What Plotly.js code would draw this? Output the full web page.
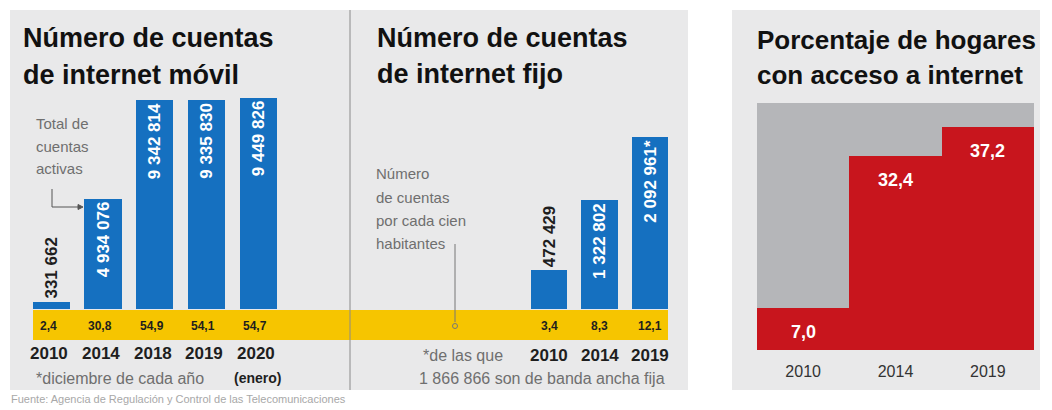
<!DOCTYPE html>
<html><head><meta charset="utf-8">
<script src="https://cdn.plot.ly/plotly-3.0.1.min.js"></script>
<style>html,body{margin:0;padding:0;background:#fff}#chart{width:1052px;height:410px}</style>
</head><body><div id="chart"></div>
<script>
// ---- data ----
const movilYears = ['2010','2014','2018','2019','2020'];
const movilCuentas = [331662, 4934076, 9342814, 9335830, 9449826];
const movilPorCien = [2.4, 30.8, 54.9, 54.1, 54.7];
const fijoYears = ['2010','2014','2019'];
const fijoCuentas = [472429, 1322802, 2092961];
const fijoPorCien = [3.4, 8.3, 12.1];
const fijoSuffix = ['', '', '*'];
const hogaresYears = ['2010','2014','2019'];
const hogaresPct = [7.0, 32.4, 37.2];

// ---- helpers ----
const W = 1052, H = 410;
const px = x => x / W, py = y => 1 - y / H;
const FONT = '"Liberation Sans", Arial, sans-serif';
const BLUE = '#1570c0', YEL = '#f6c500', RED = '#c8151d', DARK = '#1e1e1e', GREYTXT = '#6f6f6f';
const fmtInt = n => String(n).replace(/\B(?=(\d{3})+(?!\d))/g, ' ');
const fmtDec = v => v.toFixed(1).replace('.', ',');

const movilText = movilCuentas.map(fmtInt);
const fijoText = fijoCuentas.map((v, i) => fmtInt(v) + fijoSuffix[i]);
const posFor = (vals, thr) => vals.map(v => v < thr ? 'outside' : 'inside');

const barText = {family: FONT, size: 17, weight: 'bold'};
const traces = [
  {type: 'bar', x: movilYears, y: movilCuentas, xaxis: 'x', yaxis: 'y', width: 0.72,
   marker: {color: BLUE}, text: movilText, textposition: posFor(movilCuentas, 1e6),
   textangle: -90, insidetextanchor: 'end', constraintext: 'none', cliponaxis: false,
   insidetextfont: Object.assign({color: '#fff'}, barText),
   outsidetextfont: Object.assign({color: DARK}, barText), hoverinfo: 'skip'},
  {type: 'bar', x: fijoYears, y: fijoCuentas, xaxis: 'x2', yaxis: 'y2', width: 0.73,
   marker: {color: BLUE}, text: fijoText, textposition: posFor(fijoCuentas, 1e6),
   textangle: -90, insidetextanchor: 'end', constraintext: 'none', cliponaxis: false,
   insidetextfont: Object.assign({color: '#fff'}, barText),
   outsidetextfont: Object.assign({color: DARK}, barText), hoverinfo: 'skip'},
  {type: 'bar', x: hogaresYears, y: hogaresPct, xaxis: 'x3', yaxis: 'y3', width: 1,
   marker: {color: RED}, hoverinfo: 'skip'}
];

const hidden = {visible: false, fixedrange: true};
const layout = {
  width: W, height: H, margin: {l: 0, r: 0, t: 0, b: 0},
  paper_bgcolor: '#fff', plot_bgcolor: 'rgba(0,0,0,0)', showlegend: false,
  separators: ', ', bargap: 0,
  font: {family: FONT, color: DARK},
  xaxis: Object.assign({type: 'category', domain: [px(25.5), px(284)], range: [-0.5, 4.5], anchor: 'y'}, hidden),
  yaxis: Object.assign({domain: [py(309), py(85.3)], range: [0, 1e7], anchor: 'x'}, hidden),
  xaxis2: Object.assign({type: 'category', domain: [px(523.75), px(675.25)], range: [-0.5, 2.5], anchor: 'y2'}, hidden),
  yaxis2: Object.assign({domain: [py(309), py(103.6)], range: [0, 2.5e6], anchor: 'x2'}, hidden),
  xaxis3: {type: 'category', domain: [px(757), px(1034)], range: [-0.5, 2.5], anchor: 'y3',
           showgrid: false, zeroline: false, showline: false, ticks: '', fixedrange: true,
           ticklabelstandoff: 10,
           tickfont: {family: FONT, size: 16, color: '#333'}},
  yaxis3: Object.assign({domain: [py(350), py(103)], range: [0, 41.2], anchor: 'x3'}, hidden),
  shapes: [], annotations: []
};

const S = layout.shapes, A = layout.annotations;
// panels
S.push({type: 'rect', xref: 'paper', yref: 'paper', x0: px(10), x1: px(688), y0: py(390), y1: py(10),
        fillcolor: '#e9e9ea', line: {width: 0}, layer: 'below'});
S.push({type: 'rect', xref: 'paper', yref: 'paper', x0: px(732), x1: px(1040), y0: py(390), y1: py(10),
        fillcolor: '#e9e9ea', line: {width: 0}, layer: 'below'});
S.push({type: 'line', xref: 'paper', yref: 'paper', x0: px(350), x1: px(350), y0: py(390), y1: py(10),
        line: {color: '#8a8a8a', width: 1}});
// grey plot background of right chart
S.push({type: 'rect', xref: 'x3 domain', yref: 'y3 domain', x0: 0, x1: 1, y0: 0, y1: 1,
        fillcolor: '#b5b6b9', line: {width: 0}, layer: 'below'});
// yellow band
S.push({type: 'rect', xref: 'paper', yref: 'paper', x0: px(33), x1: px(668), y0: py(340), y1: py(310),
        fillcolor: YEL, line: {width: 0}, layer: 'below'});
// leader lines
const P = (pts) => 'M ' + pts.map(p => px(p[0]) + ',' + py(p[1])).join(' L ');
S.push({type: 'path', xref: 'paper', yref: 'paper', path: P([[52, 189], [52, 207], [79, 207]]),
        line: {color: '#555', width: 1}});
S.push({type: 'path', xref: 'paper', yref: 'paper', path: P([[78, 204.5], [83, 207], [78, 209.5]]) + ' Z',
        fillcolor: '#555', line: {color: '#555', width: 1}});
S.push({type: 'line', xref: 'paper', yref: 'paper', x0: px(455), x1: px(455), y0: py(244), y1: py(322),
        line: {color: '#777', width: 1}});
S.push({type: 'circle', xref: 'paper', yref: 'paper', x0: px(452.5), x1: px(457.5), y0: py(328.5), y1: py(323.5),
        fillcolor: YEL, line: {color: '#777', width: 1}});

// text helper
const T = (text, x, y, o) => A.push(Object.assign({text: text, xref: 'paper', yref: 'paper', x: px(x), y: py(y),
  xanchor: 'left', yanchor: 'middle', showarrow: false, align: 'left',
  font: {family: FONT, size: 14, color: GREYTXT}}, o || {}));
const titleFont = {family: FONT, size: 27, color: '#111', weight: 'bold'};
const titleFontR = {family: FONT, size: 26, color: '#111', weight: 'bold'};
T('Número de cuentas', 21, 38, {font: titleFont});
T('de internet móvil', 21, 75, {font: titleFont});
T('Número de cuentas', 375, 38, {font: titleFont});
T('de internet fijo', 375, 74, {font: titleFont});
T('Porcentaje de hogares', 755, 40, {font: titleFontR});
T('con acceso a internet', 755, 75, {font: titleFontR});

['Total de', 'cuentas', 'activas'].forEach((s, i) => T(s, 34, 123 + i * 23, {font: {family: FONT, size: 15, color: GREYTXT}}));
['Número', 'de cuentas', 'por cada cien', 'habitantes'].forEach((s, i) => T(s, 374, 174 + i * 23, {font: {family: FONT, size: 15, color: GREYTXT}}));
T('*diciembre de cada año', 34, 378, {font: {family: FONT, size: 16, color: GREYTXT}});
T('(enero)', 232, 378, {font: {family: FONT, size: 14, color: DARK, weight: 'bold'}});
T('*de las que', 421, 355, {font: {family: FONT, size: 16, color: GREYTXT}});
T('1 866 866 son de banda ancha fija', 417, 378, {font: {family: FONT, size: 16, color: GREYTXT}});
T('Fuente: Agencia de Regulación y Control de las Telecomunicaciones', 9, 399,
  {font: {family: FONT, size: 11, color: '#a8a8a8'}});

// band values & year labels (x = category index on the axis)
const bandFont = {family: FONT, size: 12, color: DARK, weight: 'bold'};
const yearFont = {family: FONT, size: 17, color: DARK, weight: 'bold'};
const C = (text, xref, i, y, font, xs) => A.push({text: text, xref: xref, yref: 'paper', x: i, y: py(y),
  xanchor: 'center', yanchor: 'middle', showarrow: false, font: font, xshift: xs || 0});
movilYears.forEach((yr, i) => {
  C(fmtDec(movilPorCien[i]), 'x', i, 326, bandFont, -3);
  C(yr, 'x', i, 353, yearFont, -2);
});
fijoYears.forEach((yr, i) => {
  C(fmtDec(fijoPorCien[i]), 'x2', i, 326, bandFont, 0);
  C(yr, 'x2', i, 355, yearFont, 0);
});
hogaresYears.forEach((yr, i) => {
  A.push({text: fmtDec(hogaresPct[i]), xref: 'x3', yref: 'y3', x: i, y: hogaresPct[i], yanchor: 'top', yshift: -12,
          showarrow: false, font: {family: FONT, size: 18, color: '#fff', weight: 'bold'}});
});

Plotly.newPlot('chart', traces, layout, {staticPlot: true, displayModeBar: false});
</script></body></html>
